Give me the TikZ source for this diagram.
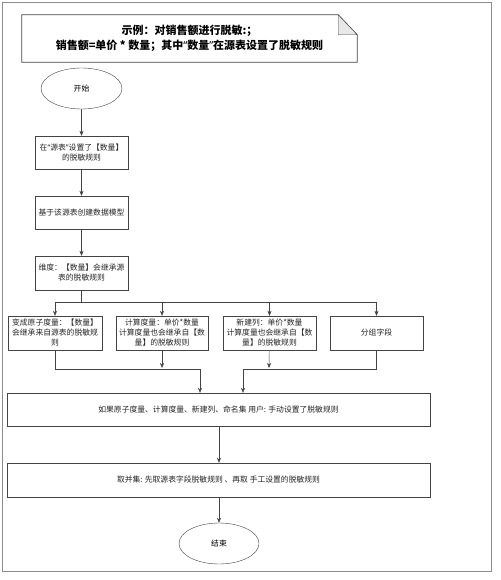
\documentclass[tikz,border=0pt]{standalone}
\usepackage{fontspec}
\setmainfont{Noto Sans CJK SC}
\newfontfamily\latinfont{Noto Sans}
\usetikzlibrary{shapes.geometric,arrows.meta}
\definecolor{linegray}{HTML}{444444}
\definecolor{framegray}{HTML}{8C8C8C}
\definecolor{foldgray}{HTML}{E8E8E8}
\newcommand{\openq}{{\latinfont “}}
\newcommand{\closeq}{{\latinfont ”}}
\tikzset{
  box/.style={draw=linegray, fill=white, align=center, inner sep=1pt,
    font=\fontsize{7.8}{10}\selectfont, text=black!85},
  term/.style={ellipse, draw=linegray, fill=white, inner sep=0pt,
    minimum width=81pt, minimum height=41pt, font=\fontsize{7.8}{10}\selectfont},
  flow/.style={draw=linegray, -{Stealth[length=5pt,width=4pt]}},
  link/.style={draw=linegray}
}
\begin{document}
\begin{tikzpicture}[x=1pt,y=-1pt]
        % page and outer frame
        \useasboundingbox[fill=white] (0,0) rectangle (500,580);
        \draw[framegray, line width=1pt] (2,3) rectangle (491,571);

        % note with folded corner
        \node[inner sep=0pt, minimum width=335pt, minimum height=47pt, align=center,
              font=\fontsize{11}{15}\selectfont\bfseries] (note) at (189.5,38.5)
              {示例：对销售额进行脱敏:；\\销售额=单价 * 数量；其中\openq 数量\closeq 在源表设置了脱敏规则};
        \draw[linegray, line width=0.8pt] (note.north west) -- ([xshift=-19pt]note.north east)
              -- ([yshift=-20pt]note.north east) -- (note.south east) -- (note.south west) -- cycle;
        \draw[linegray, fill=foldgray] ([xshift=-19pt]note.north east) -- ([xshift=-19pt,yshift=-20pt]note.north east)
              -- ([yshift=-20pt]note.north east) -- cycle;

        % main column
        \node[term] (start) at (81.5,88.5) {开始};
        \node[box, minimum width=93pt, minimum height=33pt] (src) at (81.5,152.5) {在\openq 源表\closeq 设置了【数量】\\的脱敏规则};
        \node[box, minimum width=93pt, minimum height=33pt] (model) at (81.5,212.5) {基于该源表创建数据模型};
        \node[box, minimum width=93pt, minimum height=34pt] (dim) at (81.5,273) {维度：【数量】会继承源\\表的脱敏规则};

        % four branches
        \node[box, minimum width=94pt, minimum height=34pt] (atom) at (55,333) {变成原子度量：【数量】\\会继承来自源表的脱敏规\\则};
        \node[box, minimum width=92pt, minimum height=34pt] (calc) at (162,333) {计算度量：单价*数量\\计算度量也会继承自【数\\量】的脱敏规则};
        \node[box, minimum width=93pt, minimum height=34pt] (newcol) at (269.5,333) {新建列：单价*数量\\计算度量也会继承自【数\\量】的脱敏规则};
        \node[box, minimum width=93pt, minimum height=34pt] (group) at (376.5,333) {分组字段};

        % wide steps and end
        \node[box, minimum width=423pt, minimum height=33pt] (manual) at (218.5,409.5) {如果原子度量、计算度量、新建列、命名集 用户: 手动设置了脱敏规则};
        \node[box, minimum width=423pt, minimum height=34pt] (union) at (218.5,480) {取并集: 先取源表字段脱敏规则 、再取 手工设置的脱敏规则};
        \node[term, minimum width=80pt] (finish) at (219,543.5) {结束};

        % free ends
        \coordinate (split) at (81.5,302);
        \coordinate (joinl) at (200,369);
        \coordinate (joinr) at (243,369);
        \coordinate (tipcalc) at (162,368);
        \coordinate (tipnew) at (269,368);

        % connectors
        \draw[flow] (start) -- (src);
        \draw[flow] (src) -- (model);
        \draw[flow] (model) -- (dim);
        \draw[link] (dim) -- (split);
        \draw[flow] (split) -| (atom);
        \draw[flow] (split) -| (calc);
        \draw[flow] (split) -| (newcol);
        \draw[flow] (split) -| (group);
        \draw[flow] (atom) |- (joinl) -- (joinl |- manual.north);
        \draw[flow] (calc) -- (tipcalc);
        \draw[flow] (newcol) -- (tipnew);
        \draw[flow] (group) |- (joinr) -- (joinr |- manual.north);
        \draw[flow] (manual.south -| finish) -- (union.north -| finish);
        \draw[flow] (union.south -| finish) -- (finish);
\end{tikzpicture}
\end{document}
